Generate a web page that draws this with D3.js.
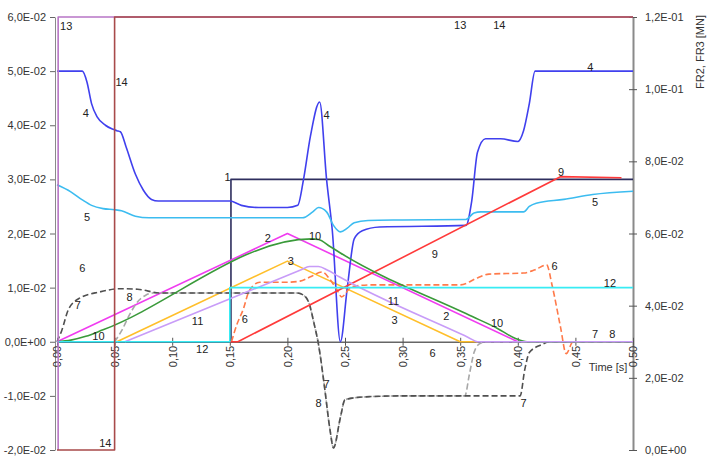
<!DOCTYPE html>
<html><head><meta charset="utf-8">
<script src="https://cdn.jsdelivr.net/npm/d3@7"></script>
<style>
body{margin:0;background:#fff}
text{font-family:"Liberation Sans",Arial,sans-serif}
</style>
</head><body>
<svg id="chart" width="711" height="460"></svg>
<script>
// ---------- axis ticks / labels ----------
const xTicks = [0,0.05,0.10,0.15,0.20,0.25,0.30,0.35,0.40,0.45,0.50];
const xTickLabels = ["0,00","0,05","0,10","0,15","0,20","0,25","0,30","0,35","0,40","0,45","0,50"];
const leftTicks = [6,5,4,3,2,1,0,-1,-2];            // units of 1E-02
const leftTickLabels = ["6,0E-02","5,0E-02","4,0E-02","3,0E-02","2,0E-02","1,0E-02","0,0E+00","-1,0E-02","-2,0E-02"];
const rightTicks = [12,10,8,6,4,2,0];               // units of 1E-02
const rightTickLabels = ["1,2E-01","1,0E-01","8,0E-02","6,0E-02","4,0E-02","2,0E-02","0,0E+00"];
const xTitle = "Time [s]";
const rightTitle = "FR2, FR3 [MN]";

// ---------- series (time [s], value in 1E-02) ----------
const t1 = [0, 0.151, 0.151, 0.5];
const v1 = [0, 0, 3.0, 3.0];
const t2 = [0, 0.2, 0.4];
const v2 = [0, 2.0, 0];
const t3 = [0.052, 0.2, 0.35, 0.365];
const v3 = [0, 1.49, 0, 0];
const t4 = [0,0.022,0.026,0.03,0.035,0.042,0.048,0.052,0.055,0.06,0.068,0.075,0.082,0.088,0.15,0.16,0.175,0.2,0.209,0.214,0.22,0.228,0.234,0.239,0.246,0.252,0.258,0.265,0.28,0.355,0.36,0.365,0.372,0.385,0.4,0.405,0.41,0.415,0.5];
const v4 = [5.0,5.0,4.8,4.4,4.15,4.0,3.93,3.9,3.88,3.6,3.1,2.8,2.63,2.6,2.6,2.52,2.48,2.48,2.52,3.0,3.8,4.43,3.0,2.05,0.0,1.0,1.9,2.05,2.12,2.15,2.6,3.5,3.75,3.75,3.7,3.9,4.4,5.0,5.0];
const t5 = [0,0.012,0.022,0.03,0.04,0.05,0.056,0.068,0.08,0.15,0.213,0.222,0.227,0.234,0.24,0.246,0.252,0.258,0.27,0.3,0.355,0.362,0.368,0.405,0.41,0.416,0.44,0.465,0.5];
const v5 = [2.9,2.77,2.62,2.52,2.46,2.44,2.42,2.32,2.29,2.29,2.29,2.4,2.48,2.4,2.15,2.03,2.1,2.2,2.24,2.25,2.26,2.38,2.4,2.4,2.5,2.56,2.63,2.72,2.78];
const t6 = [0.1515,0.156,0.162,0.166,0.17,0.176,0.2,0.211,0.22,0.23,0.237,0.243,0.247,0.256,0.272,0.35,0.365,0.375,0.405,0.415,0.425,0.43,0.437,0.442,0.448,0.5];
const v6 = [0,0.31,0.62,0.9,1.03,1.1,1.1,1.12,1.2,1.29,1.15,0.96,0.83,1.02,1.05,1.05,1.18,1.25,1.27,1.33,1.42,1.02,0.28,-0.22,0,0];
const t7 = [0,0.004,0.01,0.02,0.037,0.055,0.07,0.09,0.208,0.214,0.219,0.223,0.227,0.232,0.237,0.24,0.246,0.25,0.266,0.3,0.402,0.406,0.41,0.42,0.428,0.5];
const v7 = [0,0.2,0.6,0.81,0.92,0.98,0.97,0.9,0.9,0.86,0.7,0.35,-0.05,-0.8,-1.63,-1.96,-1.4,-1.07,-1.02,-1.0,-1.0,-0.52,-0.2,-0.06,0,0];
const t8 = [0.05,0.056,0.063,0.07,0.077,0.083,0.09,0.208,0.214,0.219,0.223,0.227,0.232,0.237,0.24,0.246,0.25,0.266,0.3,0.354,0.358,0.362,0.366,0.372,0.5];
const v8 = [0,0.2,0.5,0.74,0.86,0.9,0.9,0.9,0.86,0.7,0.35,-0.05,-0.8,-1.63,-1.96,-1.4,-1.07,-1.02,-1.0,-1.0,-0.6,-0.2,-0.05,0,0];
const t9 = [0.15, 0.157, 0.437, 0.49];
const v9 = [0, 0, 3.05, 3.03];
const t10 = [0,0.012,0.025,0.04,0.221,0.227,0.237,0.246,0.358,0.382,0.398,0.408,0.5];
const v10 = [0,0.03,0.1,0.22,1.9,1.89,1.76,1.64,0.49,0.25,0.06,0,0];
const t11 = [0.059,0.212,0.219,0.227,0.235,0.245,0.357,0.365,0.5];
const v11 = [0,1.33,1.39,1.39,1.32,1.2,0.08,0,0];
const t12 = [0, 0.15, 0.15, 0.5];
const v12 = [0, 0, 1.0, 1.0];
const t13 = [0.001, 0.001, 0.5];
const v13 = [-2, 6, 6];
const t14 = [0, 0.05, 0.05, 0.5];
const v14 = [-2, -2, 6, 6];

// ---------- in-plot series labels (data coords) ----------
const lblText = ["13","13","14","14","14","4","4","4","1","5","5","9","9","2","2","10","10","10","3","3","6","6","6","6","11","11","12","12","7","7","7","7","8","8","8","8"];
const lblT = [0.008,0.35,0.056,0.384,0.042,0.025,0.234,0.463,0.148,0.026,0.467,0.4375,0.328,0.183,0.338,0.224,0.036,0.382,0.203,0.293,0.022,0.163,0.326,0.432,0.292,0.122,0.126,0.48,0.018,0.234,0.405,0.467,0.063,0.227,0.366,0.482];
const lblV = [5.83,5.85,4.8,5.85,-1.87,4.22,4.19,5.07,3.04,2.3,2.58,3.13,1.62,1.91,0.48,1.95,0.11,0.35,1.49,0.4,1.36,0.42,-0.21,1.4,0.75,0.38,-0.13,1.09,0.68,-0.78,-1.13,0.14,0.83,-1.13,-0.39,0.14];

// ---------- styles ----------
const seriesStyle = [
  {t:t1,  v:v1,  color:"#2e2e5e", dash:null, curve:d3.curveLinear},
  {t:t2,  v:v2,  color:"#f03cf0", dash:null, curve:d3.curveLinear},
  {t:t3,  v:v3,  color:"#ffbf2a", dash:null, curve:d3.curveLinear},
  {t:t4,  v:v4,  color:"#4040ee", dash:null, curve:d3.curveMonotoneX},
  {t:t5,  v:v5,  color:"#3cbcf0", dash:null, curve:d3.curveMonotoneX},
  {t:t6,  v:v6,  color:"#ff7a4a", dash:"6,3", curve:d3.curveMonotoneX},
  {t:t8,  v:v8,  color:"#a8a8a8", dash:"6,3", curve:d3.curveMonotoneX},
  {t:t7,  v:v7,  color:"#505050", dash:"6,3", curve:d3.curveMonotoneX},
  {t:t9,  v:v9,  color:"#ff3a3a", dash:null, curve:d3.curveLinear},
  {t:t10, v:v10, color:"#3a9a3a", dash:null, curve:d3.curveMonotoneX},
  {t:t11, v:v11, color:"#c89cf8", dash:null, curve:d3.curveMonotoneX},
  {t:t12, v:v12, color:"#38ecf4", dash:null, curve:d3.curveLinear},
  {t:t13, v:v13, color:"#b876c6", dash:null, curve:d3.curveLinear},
  {t:t14, v:v14, color:"#a84a4a", dash:null, curve:d3.curveLinear}
];

const svg = d3.select("#chart");
const x = d3.scaleLinear().domain([0,0.5]).range([57,633]);
const yL = d3.scaleLinear().domain([-2,6]).range([450,17]);
const yR = d3.scaleLinear().domain([0,12]).range([450,17]);

// left axis
const gL = svg.append("g").attr("transform","translate(55,0)")
  .call(d3.axisLeft(yL).tickValues(leftTicks).tickSize(5).tickSizeOuter(0)
    .tickFormat((d,i)=>leftTickLabels[leftTicks.indexOf(d)]));
gL.select(".domain").attr("stroke","#8a8a8a");
gL.selectAll(".tick line").attr("stroke","#666");
gL.selectAll(".tick text").attr("font-size",11).attr("fill","#333").attr("x",-9)
  .attr("font-family","'Liberation Sans',Arial,sans-serif");

// right axis
const gR = svg.append("g").attr("transform","translate(633,0)")
  .call(d3.axisRight(yR).tickValues(rightTicks).tickSize(4).tickSizeOuter(0)
    .tickFormat(d=>rightTickLabels[rightTicks.indexOf(d)]));
gR.select(".domain").attr("stroke","#8a8a8a").attr("stroke-width",2);
gR.selectAll(".tick line").attr("stroke","#555").attr("x1",-4);
gR.selectAll(".tick text").attr("font-size",11).attr("fill","#333").attr("x",12)
  .attr("font-family","'Liberation Sans',Arial,sans-serif");

// x axis at y=0
const gX = svg.append("g").attr("transform",`translate(0,${yL(0)})`)
  .call(d3.axisBottom(x).tickValues(xTicks).tickSize(4).tickSizeOuter(0)
    .tickFormat(d=>xTickLabels[xTicks.indexOf(d)]));
gX.select(".domain").attr("stroke","#666").attr("stroke-width",1.5);
gX.selectAll(".tick line").attr("stroke","#555").attr("y1",-4);
gX.selectAll(".tick text").attr("font-size",11).attr("fill","#333")
  .attr("font-family","'Liberation Sans',Arial,sans-serif")
  .attr("text-anchor","end").attr("dy","0.35em")
  .attr("transform","translate(0,4) rotate(-90)").attr("y",0).attr("x",0);

// series
const line = d3.line();
seriesStyle.forEach(s=>{
  const pts = s.t.map((t,i)=>[x(t), yL(s.v[i])]);
  svg.append("path").datum(pts)
    .attr("d", line.curve(s.curve)(pts))
    .attr("fill","none").attr("stroke",s.color).attr("stroke-width",1.6)
    .attr("stroke-dasharray",s.dash).attr("stroke-linejoin","round");
});

// series labels
svg.append("g").selectAll("text").data(lblText).join("text")
  .attr("x",(d,i)=>x(lblT[i])).attr("y",(d,i)=>yL(lblV[i]))
  .attr("text-anchor","middle").attr("dy","0.35em")
  .attr("font-size",11).attr("fill","#222").text(d=>d);

// axis titles
svg.append("text").attr("x",608).attr("y",367).attr("text-anchor","middle").attr("dy","0.35em")
  .attr("font-size",11).attr("fill","#333").text(xTitle);
svg.append("text").attr("transform","translate(700,52) rotate(-90)")
  .attr("text-anchor","middle").attr("dy","0.35em")
  .attr("font-size",11).attr("fill","#333").text(rightTitle);
</script>
</body></html>
